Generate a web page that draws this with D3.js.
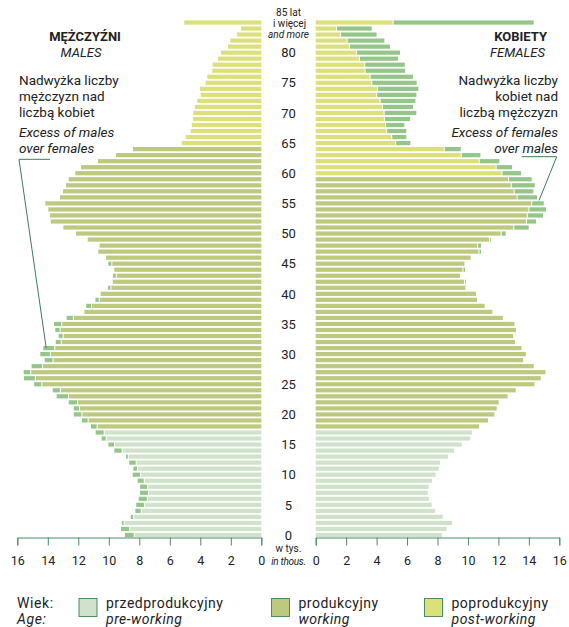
<!DOCTYPE html>
<html>
<head>
<meta charset="utf-8">
<script src="https://cdn.jsdelivr.net/npm/d3@7"></script>
<style>
  body { margin: 0; background: #fff; }
  svg { display: block; font-family: Roboto, "Open Sans", sans-serif; }
  .axis path, .axis line { stroke: #4f8a66; }
  .axis text { font-family: Roboto, sans-serif; font-size: 12.5px; fill: #222; }
</style>
</head>
<body>
<div id="pyramid"></div>
<script>
// ---------------- data (thousands, by single year of age 0..85+) ----------------
var ages = d3.range(0, 86);
var ageLabels = [0, 5, 10, 15, 20, 25, 30, 35, 40, 45, 50, 55, 60, 65, 70, 75, 80];
var males = [
  8.94, 9.20, 9.15, 8.56, 8.26, 8.20, 8.04, 7.95, 7.95, 8.11,
  8.43, 8.39, 8.66, 8.87, 9.64, 10.03, 10.47, 10.86, 11.17, 11.76,
  12.30, 12.30, 12.63, 13.42, 13.68, 14.89, 15.56, 15.58, 15.06, 14.20,
  14.49, 14.30, 13.48, 13.29, 13.51, 13.59, 12.76, 11.67, 11.48, 10.88,
  10.53, 10.05, 9.74, 9.72, 9.64, 10.03, 10.18, 10.69, 10.60, 11.38,
  12.15, 12.98, 13.81, 13.86, 13.97, 14.16, 13.20, 13.00, 12.81, 12.63,
  12.20, 11.82, 10.71, 9.53, 8.41, 5.22, 4.96, 4.63, 4.56, 4.48,
  4.46, 4.35, 4.20, 3.97, 4.02, 3.65, 3.54, 3.21, 3.19, 2.84,
  2.64, 2.18, 2.03, 1.59, 1.33, 5.05
];
var females = [
  8.30, 8.60, 8.96, 8.34, 7.84, 7.62, 7.44, 7.36, 7.42, 7.64,
  7.88, 8.08, 8.17, 8.69, 9.09, 9.59, 10.14, 10.27, 10.73, 11.32,
  11.73, 11.89, 12.02, 12.61, 13.14, 14.36, 14.78, 15.09, 14.32, 13.62,
  13.80, 13.51, 13.09, 12.96, 13.16, 13.05, 12.29, 11.60, 11.10, 10.60,
  10.55, 9.83, 9.86, 9.48, 9.81, 9.77, 10.20, 10.86, 10.86, 11.50,
  12.48, 13.99, 14.47, 14.93, 15.13, 14.98, 14.54, 14.30, 14.39, 14.19,
  13.49, 12.90, 12.06, 10.82, 9.53, 6.22, 5.95, 5.95, 5.82, 6.20,
  6.61, 6.39, 6.55, 6.61, 6.74, 6.63, 6.39, 5.87, 5.85, 5.41,
  5.54, 4.88, 4.51, 4.00, 3.68, 14.32
];
var tickValues = [0, 2, 4, 6, 8, 10, 12, 14, 16];
var workStart = 18, retireMale = 65, retireFemale = 60;

var colors = {
  pre: "#d0e2cb",
  work: "#bdc97f",
  post: "#dce07a",
  excess: "#94c68a",
  line: "#3f7a58",
  text: "#222"
};

// ---------------- chart setup ----------------
var W = 569, H = 627;
var svg = d3.select("#pyramid").append("svg")
  .attr("width", W).attr("height", H);

var xM = d3.scaleLinear().domain([0, 16]).range([261.3, 17.3]);
var xF = d3.scaleLinear().domain([0, 16]).range([315.7, 559.3]);
var y = d3.scaleBand()
  .domain(ages.slice().reverse())
  .range([19.5, 538])
  .paddingInner(0.3)
  .paddingOuter(0.15);

function category(age, retire) {
  if (age < workStart) return colors.pre;
  if (age < retire) return colors.work;
  return colors.post;
}

var rows = ages.map(function (a, i) {
  return { age: a, m: males[i], f: females[i] };
});

// bars: the common part in the age-group colour, the surplus in green
var gBars = svg.append("g");
rows.forEach(function (d) {
  var base = Math.min(d.m, d.f);
  var yy = y(d.age), h = y.bandwidth();
  // males
  gBars.append("rect")
    .attr("x", xM(base)).attr("y", yy)
    .attr("width", xM(0) - xM(base)).attr("height", h)
    .attr("fill", category(d.age, retireMale));
  if (d.m > d.f) {
    gBars.append("rect")
      .attr("x", xM(d.m)).attr("y", yy)
      .attr("width", Math.max(0, xM(base) - 1 - xM(d.m))).attr("height", h)
      .attr("fill", colors.excess);
  }
  // females
  gBars.append("rect")
    .attr("x", xF(0)).attr("y", yy)
    .attr("width", xF(base) - xF(0)).attr("height", h)
    .attr("fill", category(d.age, retireFemale));
  if (d.f > d.m) {
    gBars.append("rect")
      .attr("x", xF(base) + 1).attr("y", yy)
      .attr("width", Math.max(0, xF(d.f) - xF(base) - 1)).attr("height", h)
      .attr("fill", colors.excess);
  }
});

// axes
var axisY = 537.5;
var fmt = d3.format("d");
svg.append("g").attr("class", "axis")
  .attr("transform", "translate(0," + axisY + ")")
  .call(d3.axisBottom(xM).tickValues(tickValues).tickFormat(fmt).tickSize(8).tickPadding(11));
svg.append("g").attr("class", "axis")
  .attr("transform", "translate(0," + axisY + ")")
  .call(d3.axisBottom(xF).tickValues(tickValues).tickFormat(fmt).tickSize(8).tickPadding(11));

// age labels in the middle
var midX = 288.5;
svg.append("g").selectAll("text")
  .data(ageLabels)
  .enter().append("text")
  .attr("x", midX)
  .attr("y", function (a) { return y(a) + y.bandwidth() / 2; })
  .attr("dy", "0.36em")
  .attr("text-anchor", "middle")
  .style("font-size", "13px")
  .style("fill", colors.text)
  .text(function (a) { return a; });

function label(x, yy, txt, opts) {
  opts = opts || {};
  var t = svg.append("text")
    .attr("x", x).attr("y", yy)
    .attr("text-anchor", opts.anchor || "start")
    .style("font-size", (opts.size || 13.5) + "px")
    .style("fill", colors.text)
    .style("letter-spacing", (opts.ls || 0) + "px")
    .text(txt);
  if (opts.italic) t.style("font-style", "italic");
  if (opts.bold) t.style("font-weight", "bold");
  return t;
}

// top centre: 85+
label(midX, 16, "85 lat", { anchor: "middle", size: 10 });
label(midX + 1, 26.8, "i więcej", { anchor: "middle", size: 10 });
label(midX, 37.5, "and more", { anchor: "middle", size: 10, italic: true });

// bottom centre: unit
label(midX, 552, "w tys.", { anchor: "middle", size: 10 });
label(midX, 564.5, "in thous.", { anchor: "middle", size: 10, italic: true, ls: -0.3 });

// left headings
label(85, 41, "MĘŻCZYŹNI", { anchor: "middle", size: 13, bold: true });
label(81, 57, "MALES", { anchor: "middle", size: 13, italic: true });
label(19, 85, "Nadwyżka liczby");
label(19, 101, "mężczyzn nad");
label(19, 116.5, "liczbą kobiet");
label(19, 137, "Excess of males", { italic: true });
label(19, 152.5, "over females", { italic: true });

// right headings
label(547, 41, "KOBIETY", { anchor: "end", size: 13, bold: true });
label(545, 57, "FEMALES", { anchor: "end", size: 13, italic: true });
label(558, 85, "Nadwyżka liczby", { anchor: "end" });
label(558, 101, "kobiet nad", { anchor: "end" });
label(558, 116.5, "liczbą mężczyzn", { anchor: "end" });
label(558, 137, "Excess of females", { anchor: "end", italic: true });
label(558, 152.5, "over males", { anchor: "end", italic: true });

// leader lines to excess bars
var lm = 31, lf = 56;
svg.append("path")
  .attr("d", d3.line()([[50, 159.3], [19, 159.3],
    [xM(males[lm]) + 3, y(lm) + y.bandwidth() / 2]]))
  .attr("fill", "none").attr("stroke", colors.line).attr("stroke-width", 1);
svg.append("path")
  .attr("d", d3.line()([[521.7, 156.7], [556.7, 156.7],
    [xF(females[lf]) + 2, y(lf) + y.bandwidth() + 1]]))
  .attr("fill", "none").attr("stroke", colors.line).attr("stroke-width", 1);

// legend
var legendItems = [
  { pl: "przedprodukcyjny", en: "pre-working", color: colors.pre, x: 79 },
  { pl: "produkcyjny", en: "working", color: colors.work, x: 271.5 },
  { pl: "poprodukcyjny", en: "post-working", color: colors.post, x: 424.5 }
];
label(17, 607.5, "Wiek:", { size: 14, ls: 0.6 });
label(17, 623.5, "Age:", { size: 14, ls: 0.6, italic: true });
legendItems.forEach(function (d) {
  svg.append("rect")
    .attr("x", d.x).attr("y", 598.5)
    .attr("width", 18).attr("height", 18)
    .attr("fill", d.color)
    .attr("stroke", "#4f8a66").attr("stroke-width", 1);
  label(d.x + 27, 607.5, d.pl, { size: 14, ls: 0.5 });
  label(d.x + 27, 623.5, d.en, { size: 14, ls: 0.5, italic: true });
});
</script>
</body>
</html>
